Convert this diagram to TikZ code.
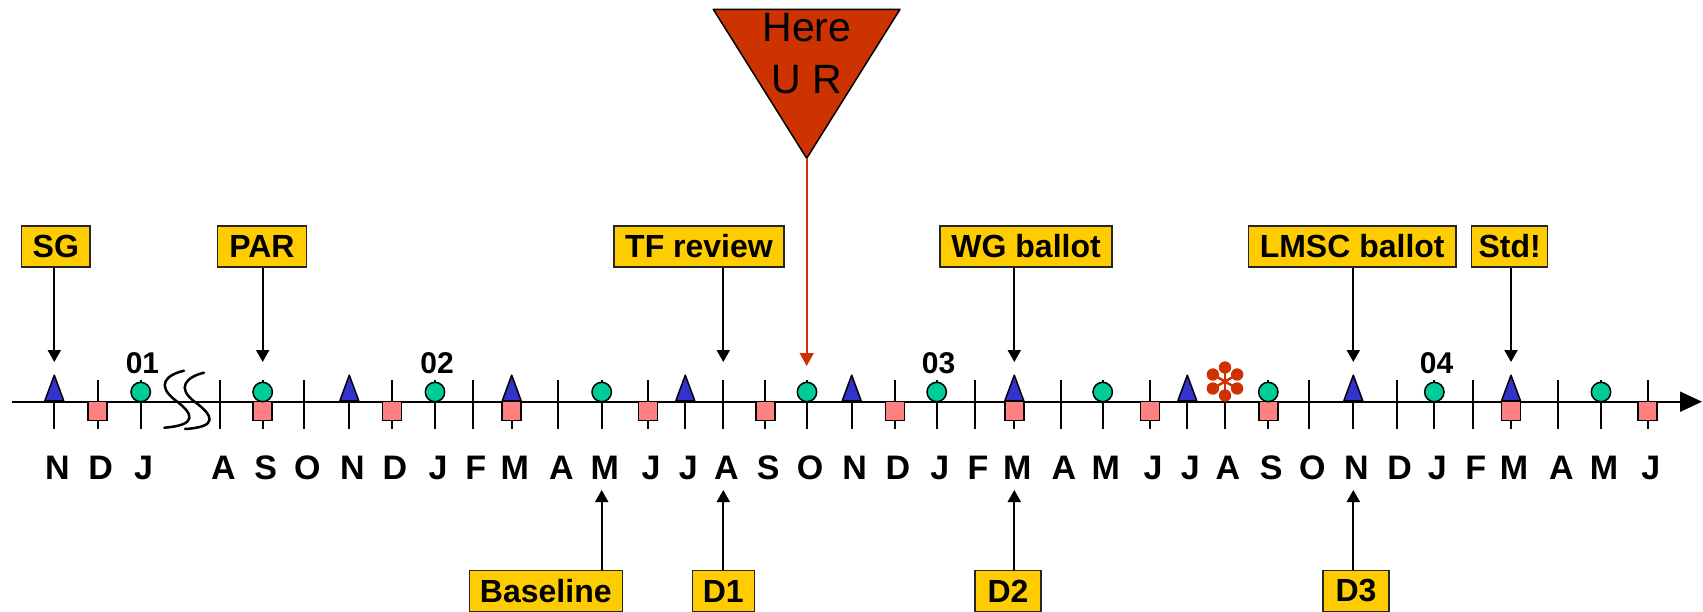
\documentclass[tikz,border=0pt]{standalone}
\usepackage{fontspec}
\setmainfont{Liberation Sans}
\usetikzlibrary{arrows.meta}
\definecolor{boxyellow}{HTML}{FFCC00}
\definecolor{triblue}{HTML}{3333CC}
\definecolor{dotgreen}{HTML}{00CC99}
\definecolor{sqpink}{HTML}{FF8080}
\definecolor{rust}{HTML}{CC3300}
\begin{document}
\begin{tikzpicture}[x=1pt,y=-1pt,
  milestone/.style={draw=black!85, line width=1.5pt, fill=boxyellow,
    font=\bfseries\fontsize{32}{38}\selectfont, minimum height=41pt, inner sep=0pt},
  monthtick/.style={line width=2pt},
  monthlabel/.style={font=\bfseries\fontsize{34}{40}\selectfont, inner sep=0pt},
  yearlabel/.style={font=\bfseries\fontsize{30}{36}\selectfont, inner sep=0pt},
  pointer/.style={line width=2pt, -{Triangle[width=13pt,length=12pt]}},
  trimark/.style={draw=black, line width=1.5pt, fill=triblue, line join=round},
  dotmark/.style={draw=black, line width=1.5pt, fill=dotgreen},
  sqmark/.style={draw=black, line width=1.5pt, fill=sqpink},
]
\useasboundingbox (0,0) rectangle (1703,612);

% reference rows
\coordinate (toprow) at (0,362);
\coordinate (botrow) at (0,490);
\coordinate (redrow) at (0,366);

% time axis
\coordinate (axisstart) at (12,401.7);
\coordinate (axisend) at (1702,401.7);
\draw[line width=2pt, -{Triangle[width=20pt,length=22pt]}] (axisstart) -- (axisend);

% month ticks and labels
\foreach \x/\m [count=\i] in {54.3/N, 97.7/D, 140.7/J, 220.3/A, 262.7/S, 304.3/O,
  349.3/N, 392/D, 435/J, 472.7/F, 511.7/M, 558.3/A, 601.7/M, 648/J, 685.3/J,
  723.3/A, 765.3/S, 807/O, 851.7/N, 895/D, 936.7/J, 975/F, 1014.3/M, 1061/A,
  1102.7/M, 1150/J, 1187.3/J, 1225/A, 1268.3/S, 1309.3/O, 1353.3/N, 1396.7/D,
  1434.3/J, 1472.7/F, 1511/M, 1558.3/A, 1601/M, 1647.7/J}
{
  \coordinate (m\i) at (\x,401.7);
  \draw[monthtick] (\x,380) -- (\x,429);
  \node[monthlabel] (lab\i) at (\x+3,468) {\m};
}

% year markers
\node[yearlabel] (y01) at (142.5,363) {01};
\node[yearlabel] (y02) at (437,363) {02};
\node[yearlabel] (y03) at (938.5,363) {03};
\node[yearlabel] (y04) at (1436.5,363) {04};

% axis break
\draw[line width=2.5pt, line cap=round]
  (184,370.7) .. controls (166,375) and (156,385) .. (175,400)
  .. controls (194,414) and (198,425) .. (164.3,427.7);
\draw[line width=2.5pt, line cap=round]
  (204,372.7) .. controls (186,377) and (176,388) .. (195,402)
  .. controls (214,416) and (218,427) .. (185,429);

% squares below the axis
\foreach \i in {2,5,8,11,14,17,20,23,26,29,35,38}
  \draw[sqmark] (m\i) ++(-9.5,0) rectangle ++(19,19);
% circles above the axis
\foreach \i in {3,5,9,13,18,21,25,29,33,37}
  \draw[dotmark] (m\i) ++(0,-9.7) circle (9.7);
% triangles above the axis
\foreach \i in {1,7,11,15,19,23,27,31,35}
  \draw[trimark] (m\i) ++(-9.5,-0.8) -- ++(19,0) -- ++(-9.5,-25.7) -- cycle;

% flower
\coordinate (flower) at (1225,381.5);
\foreach \a in {90,30,-30,-90,-150,150} {
  \draw[rust, line width=2.5pt] (flower) -- ++(\a:14);
  \fill[rust] (flower) ++(\a:14) circle (6.2);
}

% "you are here" marker
\coordinate (tl) at (713.3,9.3);
\coordinate (tr) at (900,9.3);
\coordinate (apex) at (806.7,158.3);
\draw[fill=rust, line width=1.5pt, line join=round] (tl) -- (tr) -- (apex) -- cycle;
\node[anchor=north, inner sep=0pt, align=center, font=\fontsize{41}{52}\selectfont]
  (here) at (807,13.3) {Here\\U R};
\draw[rust, line width=1.8pt, -{Triangle[width=14pt,length=13pt]}] (apex) -- (apex |- redrow);

% milestones above the axis
\node[milestone, minimum width=68.3pt] (sg) at (55.8,246.5) {SG};
\node[milestone, minimum width=89.4pt] (par) at (262,246.5) {PAR};
\node[milestone, minimum width=170pt] (tf) at (699,246.5) {TF review};
\node[milestone, minimum width=171.8pt] (wg) at (1026.1,246.5) {WG ballot};
\node[milestone, minimum width=207.7pt] (lmsc) at (1352.2,246.5) {LMSC ballot};
\node[milestone, minimum width=76pt] (std) at (1509.6,246.5) {Std!};

\draw[pointer] (m1 |- sg.south) -- (m1 |- toprow);
\draw[pointer] (m5 |- par.south) -- (m5 |- toprow);
\draw[pointer] (m16 |- tf.south) -- (m16 |- toprow);
\draw[pointer] (m23 |- wg.south) -- (m23 |- toprow);
\draw[pointer] (m31 |- lmsc.south) -- (m31 |- toprow);
\draw[pointer] (m35 |- std.south) -- (m35 |- toprow);

% milestones below the axis
\node[milestone, minimum width=153pt] (base) at (545.8,591) {Baseline};
\node[milestone, minimum width=62pt] (d1) at (723.3,591) {D1};
\node[milestone, minimum width=66pt] (d2) at (1008,591) {D2};
\node[milestone, minimum width=66pt] (d3) at (1356,591) {D3};

\draw[pointer] (m13 |- base.north) -- (m13 |- botrow);
\draw[pointer] (m16 |- d1.north) -- (m16 |- botrow);
\draw[pointer] (m23 |- d2.north) -- (m23 |- botrow);
\draw[pointer] (m31 |- d3.north) -- (m31 |- botrow);
\end{tikzpicture}
\end{document}
